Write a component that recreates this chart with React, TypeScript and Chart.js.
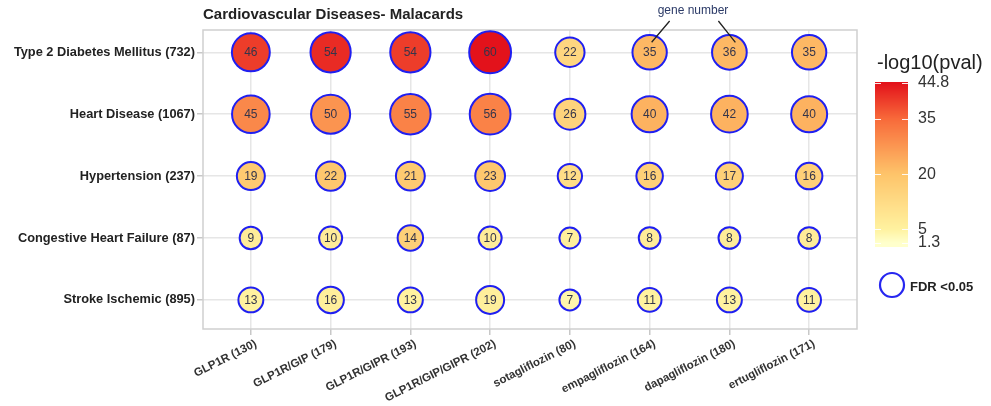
import React, { useEffect, useRef } from 'react';
import { Chart, registerables } from 'chart.js';

Chart.register(...registerables);

const diseases = [
  'Type 2 Diabetes Mellitus (732)',
  'Heart Disease (1067)',
  'Hypertension (237)',
  'Congestive Heart Failure (87)',
  'Stroke Ischemic (895)',
];

const drugs = [
  'GLP1R (130)',
  'GLP1R/GIP (179)',
  'GLP1R/GIPR (193)',
  'GLP1R/GIP/GIPR (202)',
  'sotagliflozin (80)',
  'empagliflozin (164)',
  'dapagliflozin (180)',
  'ertugliflozin (171)',
];

// gene numbers shown in bubbles (rows = diseases, cols = drugs)
const genesT2D = [46, 54, 54, 60, 22, 35, 36, 35];
const genesHeart = [45, 50, 55, 56, 26, 40, 42, 40];
const genesHypertension = [19, 22, 21, 23, 12, 16, 17, 16];
const genesCHF = [9, 10, 14, 10, 7, 8, 8, 8];
const genesStroke = [13, 16, 13, 19, 7, 11, 13, 11];

// -log10(pval) estimated from the fill colours
const pvalT2D = [40, 42, 40, 44.8, 14, 22, 22, 22];
const pvalHeart = [30, 28, 31, 31, 15, 23, 23, 23];
const pvalHypertension = [18, 19, 18, 19, 12, 16, 16, 16];
const pvalCHF = [7, 7, 16, 7, 6, 7, 7, 7];
const pvalStroke = [5, 6, 5, 6, 4, 5, 5, 5];

const geneCounts = [genesT2D, genesHeart, genesHypertension, genesCHF, genesStroke];
const negLog10P = [pvalT2D, pvalHeart, pvalHypertension, pvalCHF, pvalStroke];

const colorbarTicks = [44.8, 35, 20, 5, 1.3];
const colorStopValues = [1.3, 5, 20, 35, 44.8];
const colorStopColors = ['#FFFFCC', '#FFF2A0', '#FEC46A', '#F86A3A', '#E3121B'];

const FONT = '"Liberation Sans", Arial, Helvetica, sans-serif';

function hexToRgb(h: string) {
  const n = parseInt(h.slice(1), 16);
  return [(n >> 16) & 255, (n >> 8) & 255, n & 255];
}

function colorFor(v: number) {
  const lo = colorStopValues[0];
  const hi = colorStopValues[colorStopValues.length - 1];
  const val = Math.max(lo, Math.min(hi, v));
  let i = 0;
  while (i < colorStopValues.length - 2 && val > colorStopValues[i + 1]) i++;
  const t = (val - colorStopValues[i]) / (colorStopValues[i + 1] - colorStopValues[i]);
  const a = hexToRgb(colorStopColors[i]);
  const b = hexToRgb(colorStopColors[i + 1]);
  const c = a.map((x, k) => Math.round(x + (b[k] - x) * t));
  return `rgb(${c[0]},${c[1]},${c[2]})`;
}

function radiusFor(n: number) {
  return 5.05 + 2.05 * Math.sqrt(n);
}

const points: { x: number; y: number; n: number; p: number }[] = [];
diseases.forEach((_, r) => {
  drugs.forEach((_, c) => {
    points.push({ x: c, y: r, n: geneCounts[r][c], p: negLog10P[r][c] });
  });
});

const overlayPlugin = {
  id: 'overlay',
  beforeDatasetsDraw(chart: any) {
    const { ctx, chartArea } = chart;
    ctx.save();
    ctx.strokeStyle = '#cfcfcf';
    ctx.lineWidth = 1.5;
    ctx.strokeRect(chartArea.left, chartArea.top, chartArea.right - chartArea.left, chartArea.bottom - chartArea.top);
    ctx.restore();
  },
  afterDatasetsDraw(chart: any) {
    const { ctx } = chart;
    const meta = chart.getDatasetMeta(0);
    ctx.save();
    ctx.font = `12px ${FONT}`;
    ctx.fillStyle = '#35354a';
    ctx.textAlign = 'center';
    ctx.textBaseline = 'middle';
    meta.data.forEach((el: any, i: number) => {
      ctx.fillText(String(points[i].n), el.x, el.y + 0.5);
    });
    ctx.restore();
  },
  afterDraw(chart: any) {
    const { ctx, chartArea } = chart;
    const meta = chart.getDatasetMeta(0);
    ctx.save();

    // title
    ctx.font = `bold 15px ${FONT}`;
    ctx.fillStyle = '#222';
    ctx.textAlign = 'left';
    ctx.textBaseline = 'middle';
    ctx.fillText('Cardiovascular Diseases- Malacards', chartArea.left, 15);

    // gene number annotation
    const a = meta.data[5];
    const b = meta.data[6];
    ctx.font = `12px ${FONT}`;
    ctx.fillStyle = '#2b3a67';
    ctx.textAlign = 'center';
    ctx.fillText('gene number', (a.x + b.x) / 2 + 3.5, 11);
    ctx.strokeStyle = '#222';
    ctx.lineWidth = 1.3;
    ctx.beginPath();
    ctx.moveTo(a.x + 20, 21);
    ctx.lineTo(a.x + 2, a.y - 10);
    ctx.moveTo(b.x - 11, 21);
    ctx.lineTo(b.x + 6, b.y - 10);
    ctx.stroke();

    // colour bar
    const barL = 875, barW = 33, barT = 82, barB = 247;
    const vTop = 44.8, vBot = 1.3, yTop = 83, yBot = 243;
    const valToY = (v: number) => yBot - ((v - vBot) / (vTop - vBot)) * (yBot - yTop);
    for (let y = barT; y < barB; y++) {
      const v = vBot + ((yBot - (y + 0.5)) / (yBot - yTop)) * (vTop - vBot);
      ctx.fillStyle = colorFor(v);
      ctx.fillRect(barL, y, barW, 1);
    }
    ctx.strokeStyle = 'rgba(255,255,255,0.9)';
    ctx.lineWidth = 1;
    colorbarTicks.forEach((t) => {
      const y = Math.round(valToY(t)) + 0.5;
      ctx.beginPath();
      ctx.moveTo(barL, y);
      ctx.lineTo(barL + 6, y);
      ctx.moveTo(barL + barW - 6, y);
      ctx.lineTo(barL + barW, y);
      ctx.stroke();
    });
    ctx.font = `16px ${FONT}`;
    ctx.fillStyle = '#333';
    ctx.textAlign = 'left';
    ctx.textBaseline = 'middle';
    colorbarTicks.forEach((t) => {
      ctx.fillText(String(t), 918, valToY(t));
    });
    ctx.font = `20px ${FONT}`;
    ctx.fillStyle = '#222';
    ctx.fillText('-log10(pval)', 877, 63);

    // FDR legend
    ctx.beginPath();
    ctx.arc(892, 285, 12, 0, Math.PI * 2);
    ctx.strokeStyle = '#2626F0';
    ctx.lineWidth = 2.2;
    ctx.stroke();
    ctx.font = `bold 13px ${FONT}`;
    ctx.fillStyle = '#222';
    ctx.fillText('FDR <0.05', 910, 287);

    ctx.restore();
  },
};

export default function App() {
  const canvasRef = useRef<HTMLCanvasElement | null>(null);

  useEffect(() => {
    const canvas = canvasRef.current;
    if (!canvas) return;
    const gridCommon = {
      color: '#e6e6e6',
      lineWidth: 1.5,
      tickLength: 6,
      tickColor: '#c8c8c8',
      drawTicks: true,
    };
    const chart = new Chart(canvas, {
      type: 'scatter',
      data: {
        datasets: [
          {
            data: points as any,
            pointRadius: (c: any) => radiusFor(c.raw ? c.raw.n : 10),
            pointHoverRadius: (c: any) => radiusFor(c.raw ? c.raw.n : 10),
            pointBackgroundColor: (c: any) => colorFor(c.raw ? c.raw.p : 1.3),
            pointHoverBackgroundColor: (c: any) => colorFor(c.raw ? c.raw.p : 1.3),
            pointBorderColor: '#1F1FF0',
            pointHoverBorderColor: '#1F1FF0',
            pointBorderWidth: 2,
            pointHoverBorderWidth: 2,
          },
        ],
      },
      options: {
        animation: false,
        responsive: false,
        devicePixelRatio: 1,
        events: [],
        layout: { padding: { top: 30, right: 134, bottom: 0, left: 0 } },
        plugins: {
          legend: { display: false },
          tooltip: { enabled: false },
          title: { display: false },
        },
        scales: {
          x: {
            type: 'linear',
            min: -0.6,
            max: 7.6,
            afterBuildTicks: (s: any) => {
              s.ticks = drugs.map((_, i) => ({ value: i }));
            },
            afterFit: (s: any) => {
              s.height = 77;
            },
            ticks: {
              autoSkip: false,
              minRotation: 27,
              maxRotation: 27,
              padding: 2,
              labelOffset: 5,
              color: '#333',
              font: { family: FONT, size: 11.5, weight: 'bold' },
              callback: (v: any) => drugs[v] ?? '',
            },
            grid: gridCommon,
            border: { display: false },
          },
          y: {
            type: 'linear',
            reverse: true,
            min: -0.36,
            max: 4.47,
            afterBuildTicks: (s: any) => {
              s.ticks = diseases.map((_, i) => ({ value: i }));
            },
            afterFit: (s: any) => {
              s.width = 203;
            },
            ticks: {
              autoSkip: false,
              padding: 2,
              color: '#222',
              font: { family: FONT, size: 12.8, weight: 'bold' },
              callback: (v: any) => diseases[v] ?? '',
            },
            grid: gridCommon,
            border: { display: false },
          },
        },
      } as any,
      plugins: [overlayPlugin],
    });
    return () => chart.destroy();
  }, []);

  return (
    <div style={{ position: 'absolute', left: 0, top: 0, width: 991, height: 406, background: '#fff' }}>
      <canvas ref={canvasRef} width={991} height={406} style={{ display: 'block', width: 991, height: 406 }} />
    </div>
  );
}
